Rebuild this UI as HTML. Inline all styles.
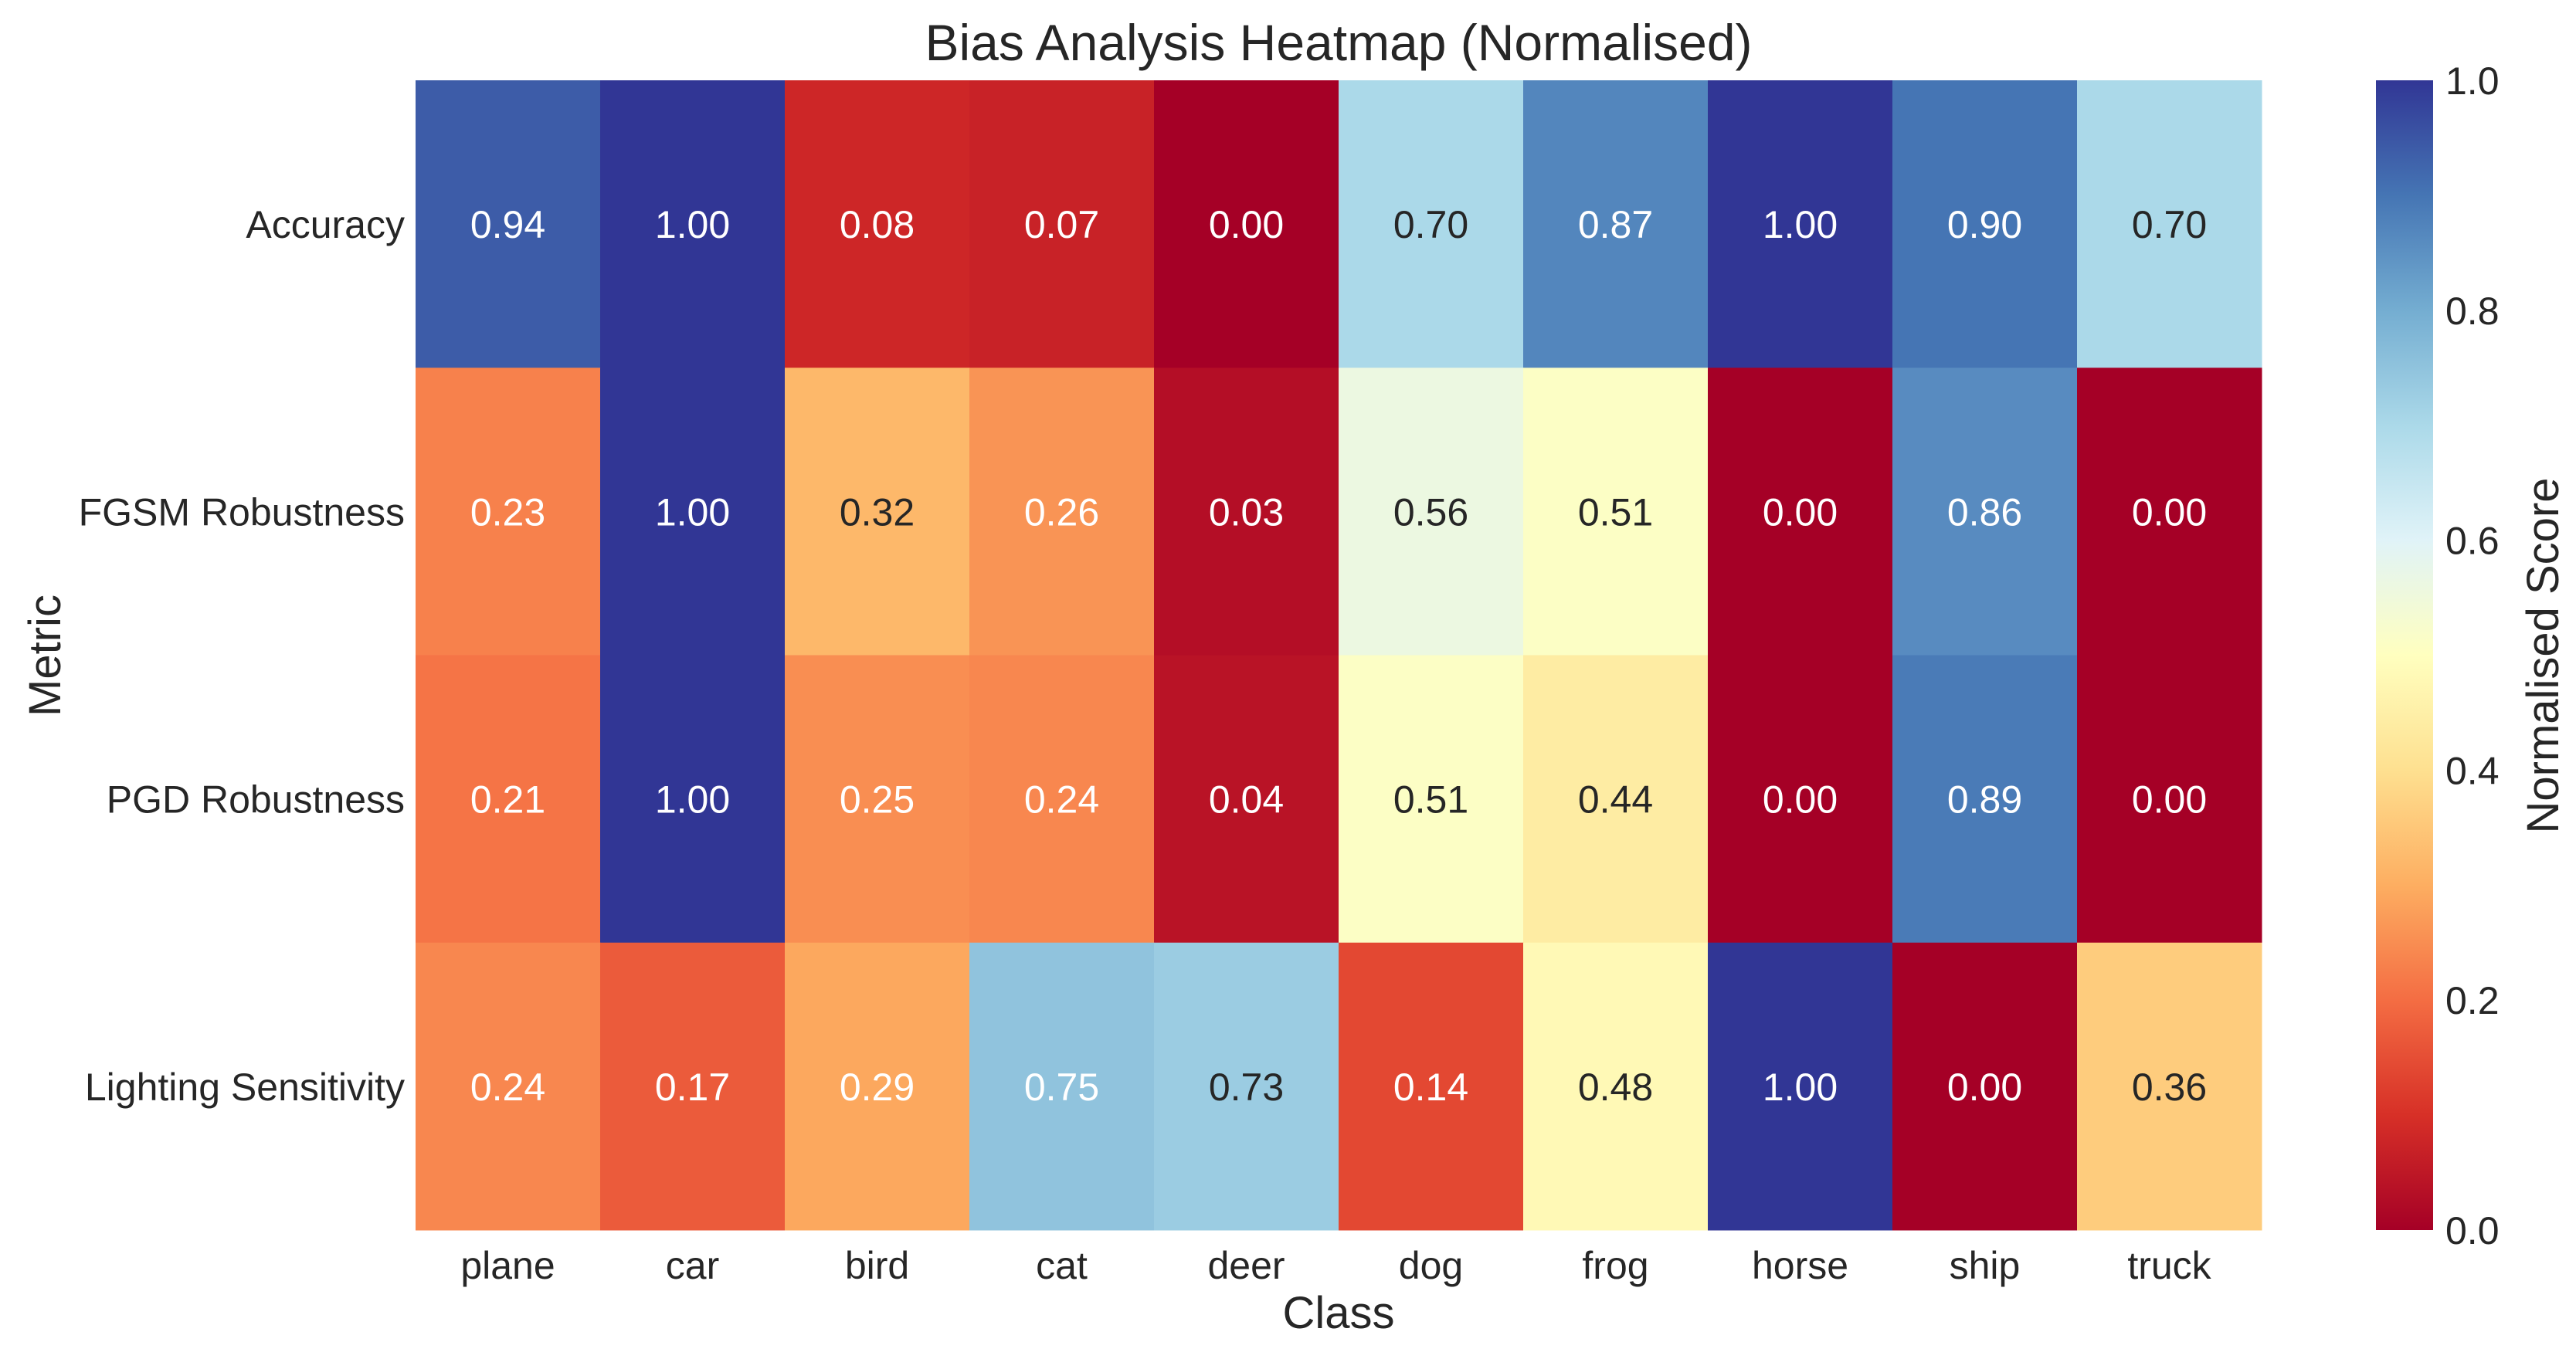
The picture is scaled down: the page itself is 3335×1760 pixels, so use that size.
<!DOCTYPE html>
<html><head><meta charset="utf-8"><style>
html,body{margin:0;padding:0;background:#fff;}
svg text{font-family:"Liberation Sans",Arial,sans-serif;fill:#262626;}
</style></head><body>
<svg id="chart" width="3335" height="1755" xmlns="http://www.w3.org/2000/svg">
<defs>
<linearGradient id="cbgrad" x1="0" y1="1" x2="0" y2="0">
<stop offset="0" stop-color="#a50026"/><stop offset="0.1" stop-color="#d73027"/><stop offset="0.2" stop-color="#f46d43"/><stop offset="0.3" stop-color="#fdae61"/><stop offset="0.4" stop-color="#fee090"/><stop offset="0.5" stop-color="#ffffbf"/><stop offset="0.6" stop-color="#e0f3f8"/><stop offset="0.7" stop-color="#abd9e9"/><stop offset="0.8" stop-color="#74add1"/><stop offset="0.9" stop-color="#4575b4"/><stop offset="1" stop-color="#313695"/>
</linearGradient>
</defs>
<text x="1733" y="78" font-size="66" text-anchor="middle">Bias Analysis Heatmap (Normalised)</text>
<g id="cells"></g>
<g id="ylabels"></g>
<g id="xlabels"></g>
<text x="1733" y="1720" font-size="58" text-anchor="middle">Class</text>
<text x="0" y="0" font-size="58" text-anchor="middle" transform="translate(78,849) rotate(-90)">Metric</text>
<rect x="3076" y="104" width="74" height="1489" fill="url(#cbgrad)"/>
<g id="cbticks"></g>
<text x="0" y="0" font-size="58" text-anchor="middle" transform="translate(3312,849) rotate(-90)">Normalised Score</text>
</svg>
<script>
const classes = ["plane","car","bird","cat","deer","dog","frog","horse","ship","truck"];
const metrics = ["Accuracy","FGSM Robustness","PGD Robustness","Lighting Sensitivity"];
const accuracy = [0.94,1.00,0.08,0.07,0.00,0.70,0.87,1.00,0.90,0.70];
const fgsm = [0.23,1.00,0.32,0.26,0.03,0.56,0.51,0.00,0.86,0.00];
const pgd = [0.21,1.00,0.25,0.24,0.04,0.51,0.44,0.00,0.89,0.00];
const lighting = [0.24,0.17,0.29,0.75,0.73,0.14,0.48,1.00,0.00,0.36];
const cbTicks = [0,0.2,0.4,0.6,0.8,1.0];

const rows = [accuracy, fgsm, pgd, lighting];
const X0 = 538, X1 = 2928, Y0 = 104, Y1 = 1593;
const cw = (X1 - X0) / classes.length, ch = (Y1 - Y0) / metrics.length;
const xPos = i => X0 + i * cw;
const yPos = j => Y0 + j * ch;
const cbY = v => Y1 - v * (Y1 - Y0);
const stops = ["#a50026","#d73027","#f46d43","#fdae61","#fee090","#ffffbf","#e0f3f8","#abd9e9","#74add1","#4575b4","#313695"].map(h=>[parseInt(h.slice(1,3),16),parseInt(h.slice(3,5),16),parseInt(h.slice(5,7),16)]);
function cmap(v){
  v = Math.max(0, Math.min(1, v)); const t = v * 10; const i = Math.min(9, Math.floor(t)); const f = t - i;
  return stops[i].map((c,k)=>Math.round(c + (stops[i+1][k]-c)*f));
}
function lum(rgb){
  const l = rgb.map(c=>{c/=255; return c<=0.03928? c/12.92 : Math.pow((c+0.055)/1.055,2.4);});
  return 0.2126*l[0]+0.7152*l[1]+0.0722*l[2];
}
const THR = lum(cmap(0.305));
const NS = "http://www.w3.org/2000/svg";
const cells = document.getElementById("cells");
rows.forEach((row, j) => {
  row.forEach((v, i) => {
    const rgb = cmap(v);
    const r = document.createElementNS(NS, "rect");
    r.setAttribute("x", xPos(i)); r.setAttribute("y", yPos(j));
    r.setAttribute("width", cw + 0.5); r.setAttribute("height", ch + 0.5);
    r.setAttribute("fill", `rgb(${rgb.join(",")})`);
    
    
    cells.appendChild(r);
    const t = document.createElementNS(NS, "text");
    t.setAttribute("x", xPos(i) + cw/2); t.setAttribute("y", yPos(j) + ch/2 + 18);
    t.setAttribute("font-size", "50"); t.setAttribute("text-anchor", "middle");
    t.style.fill = lum(rgb) > THR ? "#262626" : "#ffffff";
    t.textContent = v.toFixed(2);
    
    
    cells.appendChild(t);
  });
});
const yl = document.getElementById("ylabels");
metrics.forEach((m, j) => {
  const t = document.createElementNS(NS, "text");
  t.setAttribute("x", 524); t.setAttribute("y", yPos(j) + ch/2 + 18);
  t.setAttribute("font-size", "50"); t.setAttribute("text-anchor", "end");
  t.textContent = m;
  
  
  yl.appendChild(t);
});
const xl = document.getElementById("xlabels");
classes.forEach((c, i) => {
  const t = document.createElementNS(NS, "text");
  t.setAttribute("x", xPos(i) + cw/2); t.setAttribute("y", 1656);
  t.setAttribute("font-size", "50"); t.setAttribute("text-anchor", "middle");
  t.textContent = c;
  
  
  xl.appendChild(t);
});
const cb = document.getElementById("cbticks");
cbTicks.forEach(v => {
  const t = document.createElementNS(NS, "text");
  t.setAttribute("x", 3166); t.setAttribute("y", cbY(v) + 18);
  t.setAttribute("font-size", "50");
  t.textContent = v.toFixed(1);
  
  
  cb.appendChild(t);
});
</script>
</body></html>
